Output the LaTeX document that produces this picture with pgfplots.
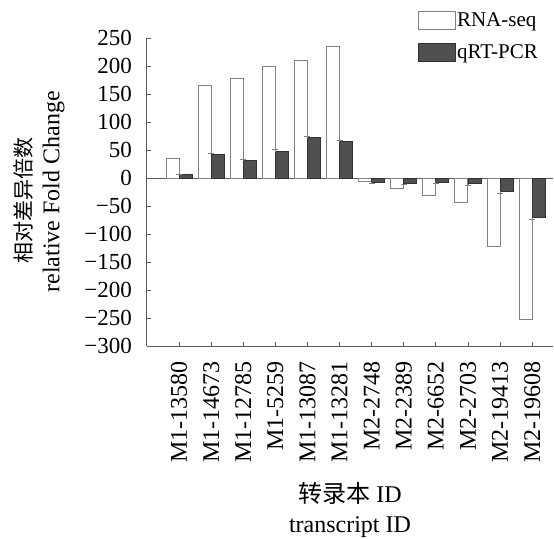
\documentclass[border=0pt]{standalone}
\usepackage{fontspec}
\setmainfont{Liberation Serif}
\newfontfamily\cjk{Noto Sans CJK SC}
\usepackage{pgfplots}
\pgfplotsset{compat=1.18}
\usepackage{pgfplotstable}
\definecolor{axisgray}{RGB}{90,90,90}
\definecolor{edgegray}{RGB}{130,130,130}
\definecolor{darkfill}{RGB}{80,80,80}
\definecolor{darkedge}{RGB}{50,50,50}

\pgfplotstableread{
x  rna   qpcr  e
1  35    6     1
2  165   42    2
3  177   31    2
4  199   47    5
5  209   72    3
6  235   65    2
7  -6    -8    1
8  -19   -10   1
9  -31   -8    1
10 -43   -10   2
11 -122  -24   4
12 -253  -71   3
}\datatable

\begin{document}
\begin{tikzpicture}[font=\fontsize{22}{28}\selectfont]
\path[use as bounding box] (-147pt,-192pt) rectangle (407pt,346pt);
\begin{axis}[
  at={(0pt,0pt)}, anchor=south west,
  scale only axis, width=406pt, height=308pt,
  xmin=0, xmax=12.65, ymin=-300, ymax=250,
  axis x line*=bottom, axis y line*=left,
  axis line style={draw=axisgray, line width=1pt, -},
  xtick={1,...,12},
  xticklabels={M1-13580,M1-14673,M1-12785,M1-5259,M1-13087,M1-13281,M2-2748,M2-2389,M2-6652,M2-2703,M2-19413,M2-19608},
  xticklabel style={rotate=90, anchor=east, inner sep=0pt, font=\fontsize{24}{28}\selectfont},
  xticklabel shift=15pt,
  ytick={-300,-250,...,250},
  yticklabels={−300,−250,−200,−150,−100,−50,0,50,100,150,200,250},
  yticklabel style={inner sep=0pt, font=\fontsize{23}{28}\selectfont},
  yticklabel shift=15pt,
  tick align=inside, major tick length=4pt,
  tick style={draw=axisgray, line width=0.8pt},
  ylabel={{\cjk\fontsize{21}{28}\selectfont 相对差异倍数\hspace*{16pt}}\\relative Fold Change},
  ylabel style={at={([xshift=-108pt]rel axis cs:0,0.5)}, anchor=center, align=center, font=\fontsize{24}{28}\selectfont},
  xlabel={{\cjk 转录本} ID\\transcript ID},
  xlabel style={at={([yshift=-164pt]rel axis cs:0.5,0)}, anchor=center, align=center, font=\fontsize{24}{30}\selectfont},
  clip=false,
  legend style={at={(rel axis cs:0.667,1)}, anchor=north west, yshift=27pt,
    draw=none, fill=none, inner sep=0pt, row sep=13pt,
    nodes={inner sep=1pt}, font=\fontsize{21}{25}\selectfont},
  legend cell align=left,
  legend image code/.code={\draw[#1] (0pt,-9pt) rectangle (37pt,9pt);},
]
\draw[axisgray, line width=1pt] (axis cs:0,0) -- (axis cs:12.65,0);
\addplot[ybar, bar width=13pt, bar shift=-6.5pt, fill=white, draw=edgegray, line width=1pt]
  table[x=x, y=rna] {\datatable};
\addlegendentry{RNA-seq}
\addplot[ybar, bar width=13pt, bar shift=6.5pt, fill=darkfill, draw=darkedge, line width=0.8pt,
  restrict x to domain=0:6.5,
  error bars/.cd, y dir=plus, y explicit,
  error bar style={draw=edgegray, line width=0.8pt},
  error mark options={rotate=90, mark size=3pt, draw=edgegray}]
  table[x=x, y=qpcr, y error=e] {\datatable};
\addlegendentry{qRT-PCR}
\addplot[ybar, bar width=13pt, bar shift=6.5pt, fill=darkfill, draw=darkedge, line width=0.8pt,
  forget plot, restrict x to domain=6.5:13,
  error bars/.cd, y dir=minus, y explicit,
  error bar style={draw=edgegray, line width=0.8pt},
  error mark options={rotate=90, mark size=3pt, draw=edgegray}]
  table[x=x, y=qpcr, y error=e] {\datatable};
\end{axis}
\end{tikzpicture}
\end{document}
